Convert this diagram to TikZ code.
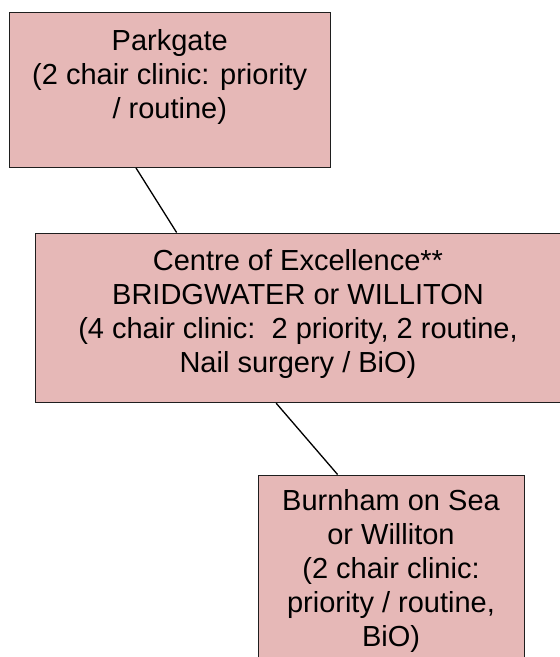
\documentclass[tikz,border=0pt]{standalone}
\usepackage{fontspec}
\setmainfont{Liberation Sans}
\usetikzlibrary{calc}
\definecolor{boxfill}{RGB}{230,184,183}
\definecolor{boxline}{RGB}{30,30,30}
\tikzset{
  clinicbox/.style={draw=boxline, fill=boxfill, line width=0.9pt, rectangle, inner sep=0pt},
  % multi-line labels: the base anchor sits on the baseline of the last line
  cliniclabel/.style={align=center, inner sep=0pt, anchor=base,
    font=\fontsize{29}{34}\selectfont, text=black},
  link/.style={draw=black, line width=1.3pt}
}
\begin{document}
\begin{tikzpicture}[x=1pt, y=-1pt]
  \useasboundingbox (0,0) rectangle (560,657);
  \clip (0,0) rectangle (560,657);

  % clinic boxes
  \node[clinicbox, minimum width=320.5pt, minimum height=155pt] (b1) at (169.75,90) {};
  \node[clinicbox, minimum width=525.5pt, minimum height=169.7pt] (b2) at (298.25,317.85) {};
  \node[clinicbox, minimum width=266pt, minimum height=225pt] (b3) at (391,587.5) {};

  % box texts
  \node[cliniclabel] (t1) at (169.75,118) {Parkgate\\(2 chair clinic: priority\\/ routine)};
  \node[cliniclabel] (t2) at (298,372) {Centre of Excellence**\\BRIDGWATER or WILLITON\\(4 chair clinic:~~2 priority, 2 routine,\\Nail surgery / BiO)};
  \node[cliniclabel] (t3) at (391,646.5) {Burnham on Sea\\or Williton\\(2 chair clinic:\\priority / routine,\\BiO)};

  % connectors
  \draw[link] ($(b1.south west)!0.395!(b1.south east)$) -- ($(b2.north west)!0.269!(b2.north east)$);
  \draw[link] ($(b2.south west)!0.458!(b2.south east)$) -- ($(b3.north west)!0.30!(b3.north east)$);
\end{tikzpicture}
\end{document}
